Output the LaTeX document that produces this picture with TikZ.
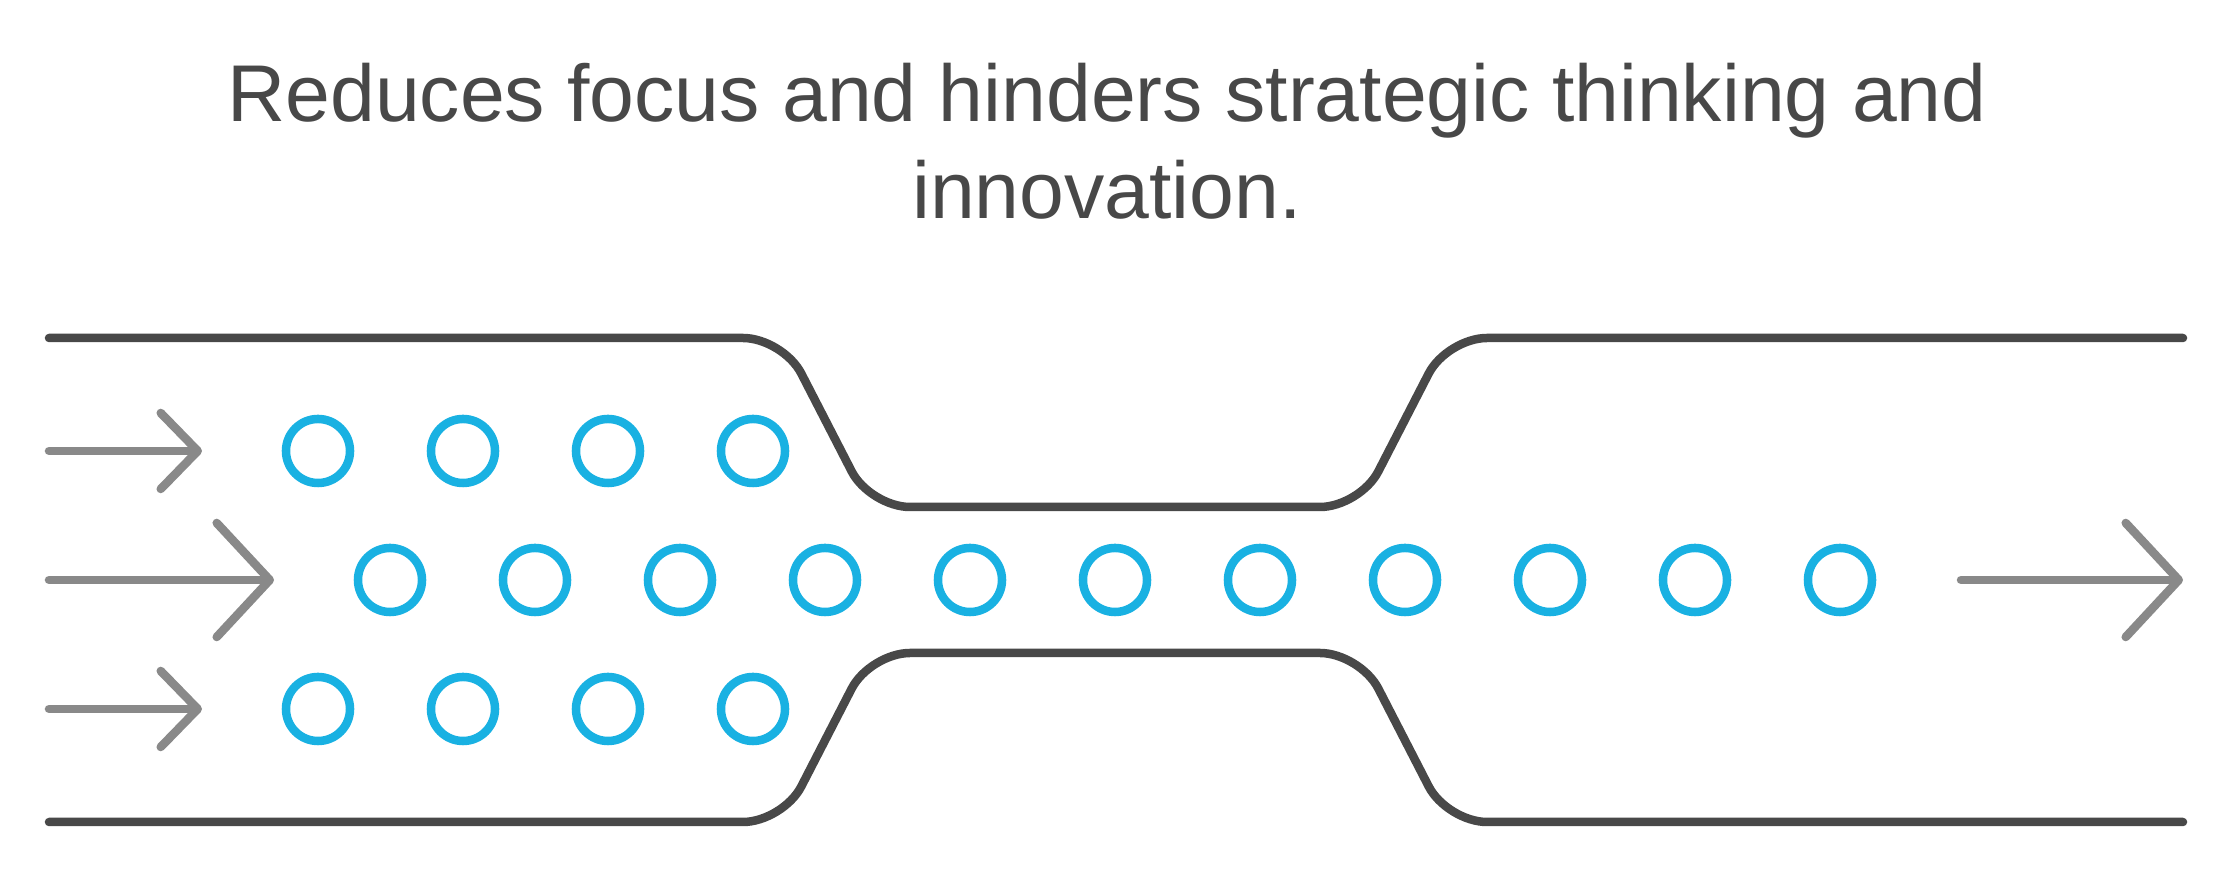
\documentclass[tikz,border=0pt]{standalone}
\usepackage{fontspec}
\setmainfont{Liberation Sans}
\usetikzlibrary{arrows.meta, positioning}
\definecolor{wallgray}{HTML}{484848}
\definecolor{flowgray}{HTML}{898989}
\definecolor{dotblue}{HTML}{19B1E2}

\begin{document}
\begin{tikzpicture}[x=0.01cm, y=-0.01cm,
  wall/.style={draw=wallgray, line width=0.085cm, line cap=round, rounded corners=0.4cm},
  dot/.style={circle, draw=dotblue, line width=0.085cm, minimum size=0.64cm, inner sep=0pt},
  flow/.style={draw=flowgray, line width=0.085cm, line cap=round,
    -{Straight Barb[length=0.37cm, width=0.76cm, round]}},
  bigflow/.style={flow, -{Straight Barb[length=0.53cm, width=1.14cm, round]}},
  title/.style={font=\fontsize{22.9pt}{27.6pt}\selectfont, text=wallgray, align=center}]
  \useasboundingbox (0,0) rectangle (2232,874);

  % heading
  \node[title, anchor=north] (head) at (1107,51) {Reduces focus and hinders strategic thinking and\\innovation.};

  % walls of the channel
  \draw[wall] (49,338) -- (783,338) -- (870,507) -- (1360,507) -- (1447,338) -- (2183,338);
  \draw[wall] (49,822) -- (783,822) -- (870,653) -- (1360,653) -- (1447,822) -- (2183,822);

  % upper lane
  \node[dot] (t1) at (318,451) {};
  \node[dot] (t2) at (463,451) {};
  \node[dot] (t3) at (608,451) {};
  \node[dot] (t4) at (753,451) {};
  % middle lane
  \node[dot] (m1)  at (390,580)  {};
  \node[dot] (m2)  at (535,580)  {};
  \node[dot] (m3)  at (680,580)  {};
  \node[dot] (m4)  at (825,580)  {};
  \node[dot] (m5)  at (970,580)  {};
  \node[dot] (m6)  at (1115,580) {};
  \node[dot] (m7)  at (1260,580) {};
  \node[dot] (m8)  at (1405,580) {};
  \node[dot] (m9)  at (1550,580) {};
  \node[dot] (m10) at (1695,580) {};
  \node[dot] (m11) at (1840,580) {};
  % lower lane
  \node[dot] (b1) at (318,709) {};
  \node[dot] (b2) at (463,709) {};
  \node[dot] (b3) at (608,709) {};
  \node[dot] (b4) at (753,709) {};

  % flow arrows
  \coordinate (inT)  at (49,451);   \coordinate (inTtip)  at (202,451);
  \coordinate (inM)  at (49,580);   \coordinate (inMtip)  at (274,580);
  \coordinate (inB)  at (49,709);   \coordinate (inBtip)  at (202,709);
  \coordinate (out)  at (1961,580); \coordinate (outtip)  at (2183,580);
  \path
    (inT) edge[flow]    (inTtip)
    (inM) edge[bigflow] (inMtip)
    (inB) edge[flow]    (inBtip)
    (out) edge[bigflow] (outtip);

\end{tikzpicture}
\end{document}
